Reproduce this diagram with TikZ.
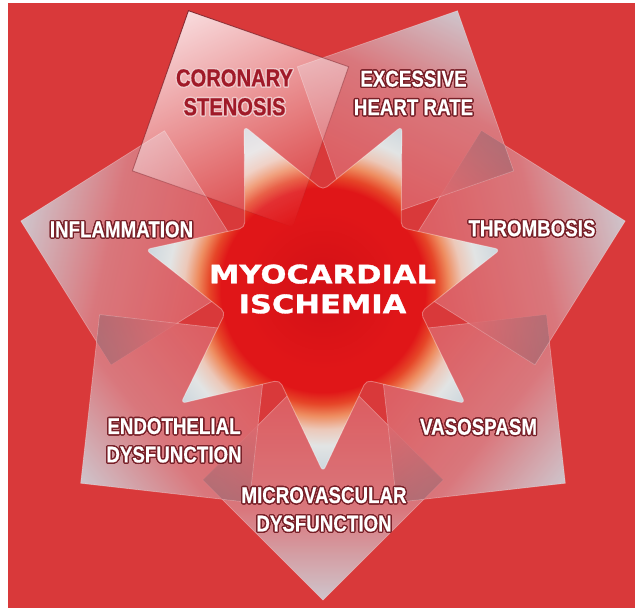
\documentclass[tikz,border=0pt]{standalone}
\usepackage{fontspec}
\usepackage{contour}
\usetikzlibrary{fadings}
\newfontfamily\petalfont[FakeStretch=0.82, FakeBold=0.5]{Liberation Sans}
\newfontfamily\corefont[FakeStretch=1.2, FakeBold=1.2]{DejaVu Sans}
\definecolor{bgred}{RGB}{217,57,58}
\definecolor{petalin}{RGB}{223,90,94}
\definecolor{petalmid}{RGB}{218,130,136}
\definecolor{petalout}{RGB}{205,222,230}
\definecolor{shadowin}{RGB}{222,105,110}
\definecolor{shadowout}{RGB}{130,90,100}
\definecolor{glowcore}{RGB}{210,16,22}
\definecolor{glowred}{RGB}{224,22,24}
\definecolor{glowhot}{RGB}{230,70,40}
\definecolor{gloworange}{RGB}{238,140,95}
\definecolor{glowpeach}{RGB}{236,200,185}
\definecolor{tipwhite}{RGB}{226,228,228}
\definecolor{tipgray}{RGB}{200,212,220}
\definecolor{corowhite}{RGB}{252,238,240}
\definecolor{rimred}{RGB}{120,32,40}
\definecolor{stenred}{RGB}{160,26,40}
\definecolor{stenhalo}{RGB}{240,200,202}
\contourlength{0.75pt}
\newcommand{\rim}[1]{\contour{rimred}{#1}}
\newcommand{\halo}[1]{\contour{stenhalo}{#1}}
\pgfdeclarehorizontalshading{petal}{100bp}{color(0bp)=(petalin); color(25bp)=(petalin); color(56bp)=(petalmid); color(75bp)=(petalout); color(100bp)=(petalout)}
\pgfdeclarehorizontalshading{shadow}{100bp}{color(0bp)=(shadowin); color(25bp)=(shadowin); color(75bp)=(shadowout); color(100bp)=(shadowout)}
\pgfdeclareradialshading{glow}{\pgfpoint{0bp}{0bp}}{color(0bp)=(glowcore); color(10.8bp)=(glowred); color(13.8bp)=(glowred); color(15.4bp)=(glowhot); color(17bp)=(gloworange); color(18.8bp)=(glowpeach); color(21bp)=(tipwhite); color(25bp)=(tipgray); color(50bp)=(tipgray)}
\tikzfading[name=coronafade, left color=transparent!100, middle color=transparent!35, right color=transparent!10]

\begin{document}
\begin{tikzpicture}[
  x=0.02cm, y=0.02cm,
  petal/.style={font=\petalfont\bfseries\fontsize{13}{16.2}\selectfont, text=white, align=center, inner sep=0pt},
  stenosis/.style={petal, font=\petalfont\bfseries\fontsize{14}{16.4}\selectfont, text=stenred},
  core/.style={font=\corefont\bfseries\fontsize{14.5}{17}\selectfont, text=white, align=center, inner sep=0pt},
  leaf/.style={shading=petal, fill opacity=0.85},
  leafedge/.style={draw=white, draw opacity=0.3, line width=0.4pt},
  overlap/.style={shading=shadow, fill opacity=0.45},
  starpath/.style={rounded corners=3pt, insert path={(-90:182)
      \foreach \j in {0,...,5}{ -- ({-90+360/7*\j+180/7}:100) -- ({-90+360/7*(\j+1)}:182)}
      -- ({-90+360/7*6+180/7}:100) -- cycle}}
]
  \useasboundingbox[fill=white] (-323,-319) rectangle (312,290);
  \fill[bgred] (-315,-318) rectangle (312,287);

  \foreach \k in {0,1,2,3,5,6}{
    \begin{scope}[transform canvas={rotate=-90+360/7*\k}]
      \shade[leaf] (70,0) -- (190,120) -- (310,0) -- (190,-120) -- cycle;
      \path[leafedge] (70,0) -- (190,120) -- (310,0) -- (190,-120) -- cycle;
    \end{scope}
  }
  \foreach \k in {5,6,0,1,2}{
    \begin{scope}[transform canvas={rotate=-90+360/7*\k+180/7}]
      \shade[overlap] (150,0) -- (223.2,25.7) -- (232.2,0) -- (223.2,-25.7) -- cycle;
    \end{scope}
  }

  \begin{scope}
    \clip[starpath];
    \shade[shading=glow] (0,0) circle (185);
  \end{scope}
  \draw[white, draw opacity=0.35, line width=0.5pt, starpath];

  \begin{scope}[transform canvas={rotate=-90+360/7*4}]
    \fill[corowhite, path fading=coronafade] (70,0) -- (190,120) -- (310,0) -- (190,-120) -- cycle;
    \draw[rimred, line width=0.5pt, path fading=coronafade] (70,0) -- (190,120) -- (310,0) -- (190,-120) -- cycle;
  \end{scope}

  \node[core] (ischemia) at (-0.5,1) {MYOCARDIAL\\ISCHEMIA};
  \node[stenosis] (stenosis) at (-88.5,197) {\halo{CORONARY}\\\halo{STENOSIS}};
  \node[petal] (heartrate) at (90.5,196.5) {\rim{EXCESSIVE}\\\rim{HEART RATE}};
  \node[petal] (thrombosis) at (209,61) {\rim{THROMBOSIS}};
  \node[petal] (vasospasm) at (155.5,-137.5) {\rim{VASOSPASM}};
  \node[petal] (microvascular) at (1,-220) {\rim{MICROVASCULAR}\\\rim{DYSFUNCTION}};
  \node[petal] (endothelial) at (-149,-151) {\rim{ENDOTHELIAL}\\\rim{DYSFUNCTION}};
  \node[petal] (inflammation) at (-201.5,60) {\rim{INFLAMMATION}};
\end{tikzpicture}
\end{document}
